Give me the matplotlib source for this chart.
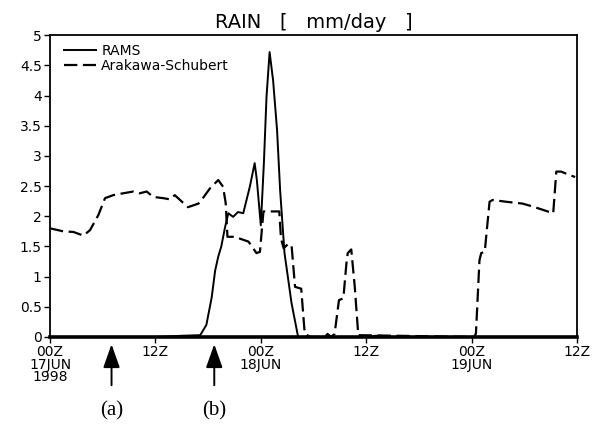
import matplotlib
matplotlib.use("Agg")
import matplotlib.pyplot as plt
import numpy as np

# hours since 00Z 17JUN1998
rams_hr = [0, 12, 15, 17.1, 17.8, 18.4, 18.8, 19.15, 19.5, 19.9, 20.3, 20.85, 21.4, 22.0,
           22.75, 23.3, 23.55, 24.0, 24.35, 24.65, 25.0, 25.4, 25.85, 26.2, 26.7, 27.5,
           28.25, 36.5, 37.0, 37.8, 38.2, 60]
rams_val = [0, 0, 0.02, 0.03, 0.2, 0.65, 1.1, 1.33, 1.5, 1.8, 2.05, 1.99, 2.07, 2.05,
            2.49, 2.88, 2.6, 1.85, 2.88, 3.98, 4.72, 4.25, 3.43, 2.43, 1.39, 0.56,
            0.0, 0.0, 0.02, 0.02, 0.0, 0.0]

as_hr = [0, 1.5, 2.65, 3.8, 4.55, 5.5, 6.26, 7.2, 8.3, 9.5, 10.2, 11.0, 11.75, 12.9,
         13.65, 14.2, 14.8, 15.7, 16.9, 17.4, 18.2, 19.15, 19.7, 20.0, 20.2, 21.0, 22.6,
         23.5, 23.9, 24.3, 26.1, 26.3, 26.6, 27.1, 27.5, 27.9, 28.6, 29.0, 29.6, 31.3,
         31.6, 32.0, 32.4, 32.9, 33.4, 33.75, 33.9, 34.3, 34.7, 35.1, 48.3, 48.5, 48.9,
         49.1, 49.5, 50.05, 50.4, 51.95, 53.8, 55.0, 57.3, 57.65, 58.2, 59.2, 59.8]
as_val = [1.80, 1.75, 1.74, 1.68, 1.77, 2.02, 2.30, 2.35, 2.38, 2.41, 2.38, 2.41, 2.32, 2.30,
          2.28, 2.35, 2.27, 2.15, 2.21, 2.30, 2.46, 2.60, 2.49, 2.22, 1.66, 1.66, 1.58,
          1.39, 1.41, 2.08, 2.08, 1.63, 1.47, 1.54, 1.52, 0.83, 0.80, 0.06, 0.0, 0.0,
          0.05, 0.0, 0.05, 0.61, 0.64, 1.22, 1.39, 1.45, 0.83, 0.03, 0.0, 0.06, 1.27,
          1.39, 1.41, 2.24, 2.27, 2.24, 2.21, 2.16, 2.05, 2.74, 2.74, 2.68, 2.65]

tick_hr = [0, 12, 24, 36, 48, 60]
tick_lab = ["00Z\n17JUN\n1998", "12Z", "00Z\n18JUN", "12Z", "00Z\n19JUN", "12Z"]
arrow_hr = [7.0, 18.7]
arrow_lab = ["(a)", "(b)"]

fig = plt.figure(figsize=(5.96, 4.29), dpi=100)
ax = fig.add_axes([0.084, 0.2145, 0.884, 0.7035])

ax.plot(rams_hr, rams_val, color="k", lw=1.4, label="RAMS", zorder=2)
ax.plot(as_hr, as_val, color="k", lw=1.6, dashes=(6, 2.5), label="Arakawa-Schubert", zorder=2)

ax.set_xlim(0, 60)
ax.set_ylim(0, 5)
ax.set_yticks(np.arange(0, 5.01, 0.5))
ax.set_yticklabels(["0", "0.5", "1", "1.5", "2", "2.5", "3", "3.5", "4", "4.5", "5"])
ax.set_xticks(tick_hr)
ax.set_xticklabels(tick_lab, linespacing=0.85)
ax.tick_params(axis="both", direction="out", length=4, width=1, labelsize=10, pad=2)
for s in ax.spines.values():
    s.set_linewidth(1.3)
    s.set_zorder(3)
ax.spines["bottom"].set_linewidth(2.6)

ax.set_title("RAIN   [   mm/day   ]", fontsize=14, pad=5)

leg = ax.legend(loc="upper left", frameon=False, fontsize=10, handlelength=2.3,
                handletextpad=0.4, labelspacing=0.1, borderaxespad=0.2,
                bbox_to_anchor=(0.01, 1.0))

for h, lab in zip(arrow_hr, arrow_lab):
    ax.annotate("", xy=(h, -0.024), xytext=(h, -0.16),
                xycoords=("data", "axes fraction"), textcoords=("data", "axes fraction"),
                arrowprops=dict(arrowstyle="-|>,head_length=0.48,head_width=0.17",
                                mutation_scale=30, lw=1.4, color="k",
                                shrinkA=0, shrinkB=0),
                annotation_clip=False)
    ax.text(h, -0.245, lab, transform=ax.get_xaxis_transform(), ha="center", va="center",
            fontsize=15, family="Liberation Serif")

fig.savefig("out.png", dpi=100)
